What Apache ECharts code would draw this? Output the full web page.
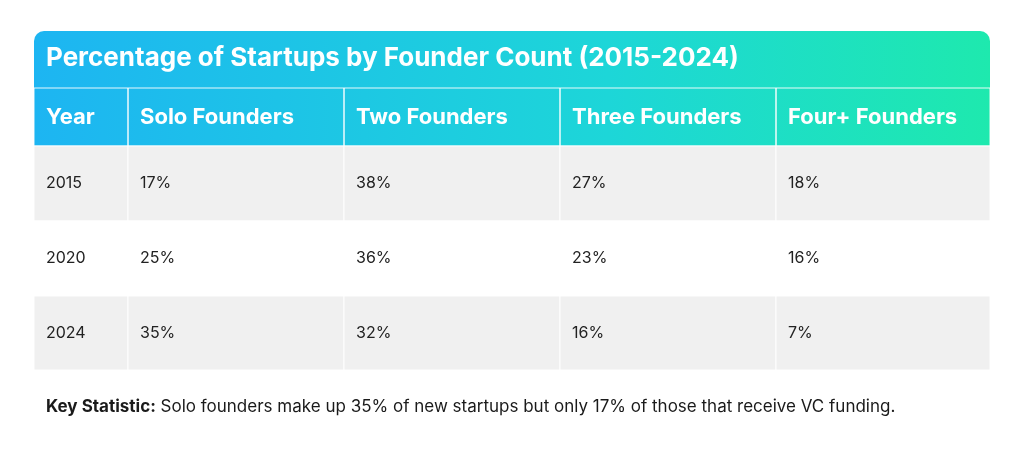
<!DOCTYPE html>
<html><head><meta charset="utf-8">
<script src="https://cdn.jsdelivr.net/npm/echarts@6/dist/echarts.min.js"></script>
<style>html,body{margin:0;padding:0;background:#fff}#c{width:1024px;height:450px}</style>
</head><body><div id="c"></div>
<script>
const titleText = 'Percentage of Startups by Founder Count (2015-2024)';
const headers = ['Year', 'Solo Founders', 'Two Founders', 'Three Founders', 'Four+ Founders'];
const years = ['2015', '2020', '2024'];
const solo = [17, 25, 35];
const two = [38, 36, 32];
const three = [27, 23, 16];
const four = [18, 16, 7];
const footnoteLabel = 'Key Statistic:';
const footnoteText = ' Solo founders make up 35% of new startups but only 17% of those that receive VC funding.';

const colEdges = [0, 94, 310, 526, 742, 956];
const rowEdges = [0, 58, 133, 208, 282];
const FONT = 'Inter, Lato, sans-serif';

const cells = [];
headers.forEach((h, c) => cells.push([c, 0, h]));
years.forEach((y, r) => {
  [y, solo[r] + '%', two[r] + '%', three[r] + '%', four[r] + '%'].forEach((v, c) => cells.push([c, r + 1, v]));
});

const chart = echarts.init(document.getElementById('c'));
const grad = new echarts.graphic.LinearGradient(0, 0, 1, 0, [
  {offset: 0, color: '#1db5f2'}, {offset: 0.6, color: '#1dd6d8'}, {offset: 1, color: '#1ee9ae'}]);
chart.setOption({
  animation: false,
  graphic: [
    {type: 'rect', shape: {x: 34, y: 31, width: 956, height: 115, r: [10, 10, 0, 0]}, style: {fill: grad}, z: 0},
    {type: 'text', left: 46, top: 45, style: {text: titleText, fill: '#fff', font: 'bold 26px ' + FONT}, z: 10},
    {type: 'text', left: 46, top: 398, style: {
      rich: {b: {font: 'bold 17px ' + FONT, fill: '#1a1a1a'}, n: {font: '17px ' + FONT, fill: '#1a1a1a'}},
      text: '{b|' + footnoteLabel + '}{n|' + footnoteText + '}'}, z: 10}
  ],
  grid: {left: 34, top: 88, width: 956, height: 282},
  xAxis: {type: 'value', min: 0, max: 956, show: false},
  yAxis: {type: 'value', min: 0, max: 282, inverse: true, show: false},
  series: [{
    type: 'custom', data: cells, z: 5,
    renderItem: function (params, api) {
      const c = api.value(0), r = api.value(1);
      const p0 = api.coord([colEdges[c], rowEdges[r]]);
      const p1 = api.coord([colEdges[c + 1], rowEdges[r + 1]]);
      const header = r === 0;
      const fill = header ? 'transparent' : (r % 2 === 1 ? '#f0f0f0' : '#ffffff');
      return {type: 'group', children: [
        {type: 'rect', shape: {x: p0[0], y: p0[1], width: p1[0] - p0[0], height: p1[1] - p0[1]},
          style: {fill: fill, stroke: 'rgba(255,255,255,0.9)', lineWidth: 1}},
        {type: 'text', style: {x: p0[0] + 12, y: (p0[1] + p1[1]) / 2, text: cells[params.dataIndex][2],
          verticalAlign: 'middle', fill: header ? '#fff' : '#222',
          font: header ? 'bold 22px ' + FONT : '16px ' + FONT}}
      ]};
    }
  }]
});
</script></body></html>
